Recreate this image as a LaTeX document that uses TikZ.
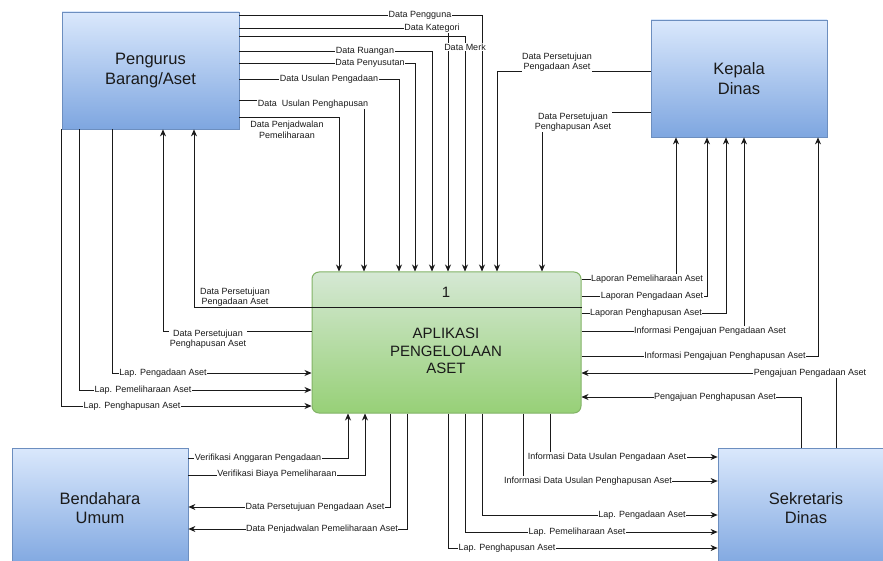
\documentclass[tikz,border=0pt]{standalone}
\usepackage{fontspec}
\setmainfont{Liberation Sans}
\usetikzlibrary{arrows.meta}
\definecolor{bluetop}{HTML}{DAE8FC}
\definecolor{bluebot}{HTML}{7EA6E0}
\definecolor{blueline}{HTML}{6C8EBF}
\definecolor{greentop}{HTML}{D5E8D4}
\definecolor{greenbot}{HTML}{97D077}
\definecolor{greenline}{HTML}{82B366}
\definecolor{ink}{HTML}{1A1A1A}
\begin{document}
\begin{tikzpicture}[x=1pt,y=-1pt,
 ext/.style={draw=blueline, line width=0.8pt, top color=bluetop, bottom color=bluebot, inner sep=0pt, align=center, font=\fontsize{16.5}{19.5}\selectfont, text=ink},
 procbox/.style={draw=greenline, line width=1pt, rounded corners=7pt, top color=greentop, bottom color=greenbot, inner sep=0pt},
 flow/.style={draw=ink, line width=0.7pt},
 arr/.style={flow, -{Stealth[length=7pt,width=6pt]}},
 lbl/.style={fill=white, inner sep=0.6pt, font=\fontsize{9}{10.5}\selectfont, text=ink, align=center},
 ptext/.style={font=\fontsize{15}{17.5}\selectfont, text=ink, align=center, inner sep=0pt}
 ]
\useasboundingbox (0,0) rectangle (883,561);
\fill[white] (0,0) rectangle (883,561);
\clip (0,0) rectangle (883,561);

% boxes
\node[ext, minimum width=177pt, minimum height=117pt] (peng) at (150.5,70.5) {Pengurus\\Barang/Aset};
\node[ext, minimum width=176pt, minimum height=117pt] (kepala) at (739,78.5) {Kepala\\Dinas};
\node[ext, minimum width=176pt, minimum height=120pt] (bend) at (100,508) {Bendahara\\Umum};
\node[ext, minimum width=176pt, minimum height=120pt] (sekr) at (806,508) {Sekretaris\\Dinas};
\node[procbox, minimum width=269pt, minimum height=141pt] (proc) at (446.5,342.5) {};
\node[ptext] (pnum) at (446,292) {1};
\node[ptext] (ptitle) at (446,351) {APLIKASI\\PENGELOLAAN\\ASET};

% Pengurus -> process (top)
\draw[arr] (peng.east |- 0,15) -| (482,0 |- proc.north);
\draw[arr] (peng.east |- 0,28) -| (448,0 |- proc.north);
\draw[arr] (peng.east |- 0,36) -| (465,0 |- proc.north);
\draw[arr] (peng.east |- 0,51) -| (432,0 |- proc.north);
\draw[arr] (peng.east |- 0,63) -| (415,0 |- proc.north);
\draw[arr] (peng.east |- 0,79) -| (399,0 |- proc.north);
\draw[arr] (peng.east |- 0,100) -| (364,0 |- proc.north);
\draw[arr] (peng.east |- 0,117) -| (339,0 |- proc.north);
% Kepala -> process (top)
\draw[arr] (kepala.west |- 0,71) -| (497,0 |- proc.north);
\draw[arr] (kepala.west |- 0,112) -| (542,0 |- proc.north);
% process -> Kepala
\draw[arr] (proc.east |- 0,279) -| (676,0 |- kepala.south);
\draw[arr] (proc.east |- 0,296) -| (707,0 |- kepala.south);
\draw[arr] (proc.east |- 0,313) -| (726,0 |- kepala.south);
\draw[arr] (proc.east |- 0,331) -| (744,0 |- kepala.south);
\draw[arr] (proc.east |- 0,356) -| (818,0 |- kepala.south);
% Sekretaris -> process
\draw[arr] (836,0 |- sekr.north) |- (proc.east |- 0,373);
\draw[arr] (801,0 |- sekr.north) |- (proc.east |- 0,397);
% Pengurus -> process (left)
\draw[arr] (112,0 |- peng.south) |- (proc.west |- 0,373);
\draw[arr] (79,0 |- peng.south) |- (proc.west |- 0,390);
\draw[arr] (peng.south west) |- (proc.west |- 0,406);
% process -> Pengurus
\draw[arr] (proc.east |- 0,307) -| (194,0 |- peng.south);
\draw[arr] (proc.west |- 0,331) -| (163,0 |- peng.south);
% Bendahara <-> process
\draw[arr] (bend.east |- 0,458) -| (348,0 |- proc.south);
\draw[arr] (bend.east |- 0,475) -| (365,0 |- proc.south);
\draw[arr] (390,0 |- proc.south) |- (bend.east |- 0,507);
\draw[arr] (407,0 |- proc.south) |- (bend.east |- 0,529);
% process -> Sekretaris
\draw[arr] (550,0 |- proc.south) |- (sekr.west |- 0,457);
\draw[arr] (523,0 |- proc.south) |- (sekr.west |- 0,481);
\draw[arr] (482,0 |- proc.south) |- (sekr.west |- 0,515);
\draw[arr] (465,0 |- proc.south) |- (sekr.west |- 0,532);
\draw[arr] (448,0 |- proc.south) |- (sekr.west |- 0,548);

% labels
\node[lbl] (l1) at (420,15) {Data Pengguna};
\node[lbl] (l2) at (432,28) {Data Kategori};
\node[lbl] (l3) at (465,47) {Data Merk};
\node[lbl] (l4) at (365,51) {Data Ruangan};
\node[lbl] (l5) at (370,63) {Data Penyusutan};
\node[lbl] (l6) at (329,79) {Data Usulan Pengadaan};
\node[lbl] (l7) at (313,104) {Data\ \ Usulan Penghapusan};
\node[lbl] (l8) at (287,130) {Data Penjadwalan\\Pemeliharaan};
\node[lbl] (k1) at (557,62) {Data Persetujuan\\Pengadaan Aset};
\node[lbl] (k2) at (573,122) {Data Persetujuan\\Penghapusan Aset};
\node[lbl] (r1) at (647,279) {Laporan Pemeliharaan Aset};
\node[lbl] (r2) at (652,296) {Laporan Pengadaan Aset};
\node[lbl] (r3) at (646,313) {Laporan Penghapusan Aset};
\node[lbl] (r4) at (710,331) {Informasi Pengajuan Pengadaan Aset};
\node[lbl] (r5) at (725,356) {Informasi Pengajuan Penghapusan Aset};
\node[lbl] (s1) at (810,373) {Pengajuan Pengadaan Aset};
\node[lbl] (s2) at (715,397) {Pengajuan Penghapusan Aset};
\node[lbl] (p1) at (163,373) {Lap. Pengadaan Aset};
\node[lbl] (p2) at (143,390) {Lap. Pemeliharaan Aset};
\node[lbl] (p3) at (132,406) {Lap. Penghapusan Aset};
\node[lbl] (q1) at (235,297) {Data Persetujuan\\Pengadaan Aset};
\node[lbl] (q2) at (208,339) {Data Persetujuan\\Penghapusan Aset};
\node[lbl] (b1) at (258,458) {Verifikasi Anggaran Pengadaan};
\node[lbl] (b2) at (277,474) {Verifikasi Biaya Pemeliharaan};
\node[lbl] (b3) at (315,507) {Data Persetujuan Pengadaan Aset};
\node[lbl] (b4) at (322,529) {Data Penjadwalan Pemeliharaan Aset};
\node[lbl] (t1) at (607,457) {Informasi Data Usulan Pengadaan Aset};
\node[lbl] (t2) at (588,481) {Informasi Data Usulan Penghapusan Aset};
\node[lbl] (t3) at (642,515) {Lap. Pengadaan Aset};
\node[lbl] (t4) at (577,532) {Lap. Pemeliharaan Aset};
\node[lbl] (t5) at (507,548) {Lap. Penghapusan Aset};
\end{tikzpicture}
\end{document}
